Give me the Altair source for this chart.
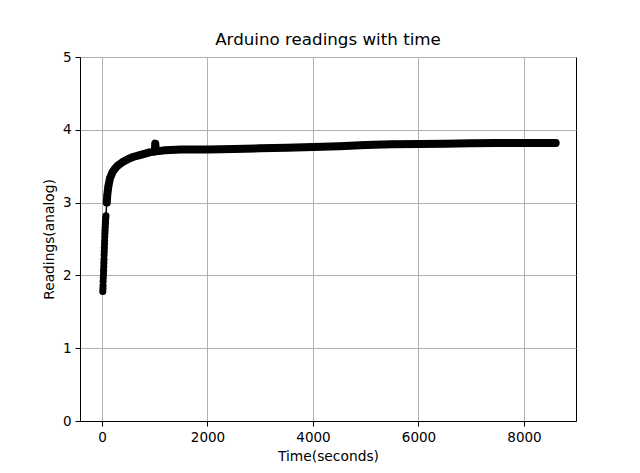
import altair as alt
import pandas as pd

# Values
time_s = [15, 18, 20, 22, 25, 28, 30, 33, 35, 38, 40, 43, 45, 48, 50, 53, 55, 58,
          60, 63, 65, 68, 70, 75,
          90, 100, 120, 150, 200, 250, 300, 400, 500, 600, 700, 800, 900,
          1000, 1010, 1020, 1100, 1200, 1500, 2000, 2500, 3000, 3500, 4000,
          4500, 5000, 5500, 6000, 6500, 7000, 7500, 8000, 8600]
readings = [1.78, 1.82, 1.86, 1.92, 1.97, 2.02, 2.07, 2.12, 2.17, 2.22, 2.28, 2.33, 2.38,
            2.43, 2.48, 2.53, 2.58, 2.62, 2.66, 2.70, 2.73, 2.76, 2.79, 2.82,
            3.00, 3.10, 3.22, 3.33, 3.42, 3.47, 3.51, 3.56, 3.60, 3.63, 3.65, 3.67, 3.69,
            3.70, 3.81, 3.71, 3.71, 3.72, 3.73, 3.73, 3.735, 3.745, 3.755, 3.765,
            3.775, 3.79, 3.80, 3.805, 3.81, 3.815, 3.82, 3.82, 3.82]
x_ticks = [0, 2000, 4000, 6000, 8000]
y_ticks = [0, 1, 2, 3, 4, 5]

df = pd.DataFrame({"t": time_s, "v": readings})

font = "DejaVu Sans"
xs = alt.Scale(domain=[-417, 8986], nice=False, zero=False)
ys = alt.Scale(domain=[0, 5], nice=False)

xenc = alt.X("t:Q", scale=xs, title="Time(seconds)",
             axis=alt.Axis(values=x_ticks, format="d"))
yenc = alt.Y("v:Q", scale=ys, title="Readings(analog)",
             axis=alt.Axis(values=y_ticks, format="d"))

thin = alt.Chart(df).mark_line(color="black", strokeWidth=1.5).encode(x=xenc, y=yenc)
band = alt.Chart(df).transform_filter("datum.t >= 88").mark_line(
    color="black", strokeWidth=8, strokeCap="round", strokeJoin="round"
).encode(x=xenc, y=yenc)
pts = alt.Chart(df).mark_circle(color="black", size=50, opacity=1).encode(x=xenc, y=yenc)

chart = alt.layer(thin, band, pts).properties(
    width=496, height=364,
    title=alt.TitleParams("Arduino readings with time", font=font, fontSize=16.7,
                          fontWeight="normal", color="black", offset=1),
    autosize=alt.AutoSizeParams(type="none"),
    padding={"left": 72, "top": 49, "right": 56, "bottom": 52},
).configure_view(
    stroke="black", strokeWidth=1
).configure_axis(
    grid=True, gridColor="#b0b0b0", gridWidth=1,
    domainColor="black", domainWidth=1,
    tickColor="black", tickSize=5, tickWidth=1,
    labelFont=font, labelFontSize=13.5, labelColor="black", labelPadding=4,
    titleFont=font, titleFontSize=13.8, titleColor="black", titleFontWeight="normal",
    titlePadding=6,
)

chart.save("out.html", embed_options={"renderer": "svg", "actions": False})
